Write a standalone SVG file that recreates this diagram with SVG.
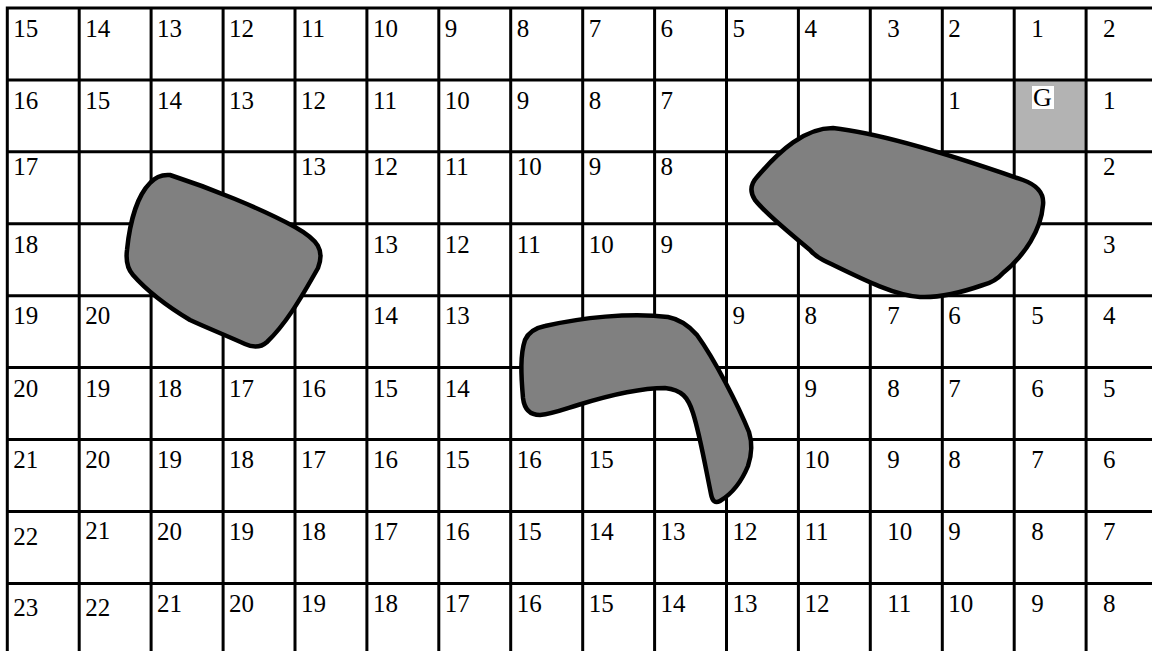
<svg xmlns="http://www.w3.org/2000/svg" width="1152" height="651" viewBox="0 0 1152 651">
<style>
.t{font-family:"Liberation Serif","Times New Roman",serif;font-size:25px;fill:#000}
.g{font-family:"Liberation Serif","Times New Roman",serif;font-size:26px;fill:#000}
.grid{fill:none;stroke:#000;stroke-width:3}
.obs{fill:#808080;stroke:#000;stroke-width:4.5;stroke-linejoin:round}
</style>
<rect x="0" y="0" width="1152" height="651" fill="#fff"/>
<g id="goal-cell"><rect x="1014.2" y="79.9" width="71.9" height="71.9" fill="#b3b3b3"/></g>
<g id="grid">
<path class="grid" d="M5.8,8H1152M5.8,79.9H1152M5.8,151.8H1152M5.8,223.8H1152M5.8,295.7H1152M5.8,367.6H1152M5.8,439.5H1152M5.8,511.4H1152M5.8,583.4H1152
M7.3,6.5V651M79.2,6.5V651M151.1,6.5V651M223.1,6.5V651M295,6.5V651M366.9,6.5V651M438.8,6.5V651M510.7,6.5V651M582.7,6.5V651M654.6,6.5V651M726.5,6.5V651M798.4,6.5V651M870.3,6.5V651M942.3,6.5V651M1014.2,6.5V651M1086.1,6.5V651"/>
</g>
<g id="labels">
<g id="row0">
<text class="t" x="13.3" y="37">15</text><text class="t" x="85.2" y="37">14</text><text class="t" x="157.1" y="37">13</text><text class="t" x="229.1" y="37">12</text><text class="t" x="301" y="37">11</text><text class="t" x="372.9" y="37">10</text><text class="t" x="444.8" y="37">9</text><text class="t" x="516.7" y="37">8</text><text class="t" x="588.7" y="37">7</text><text class="t" x="660.6" y="37">6</text><text class="t" x="732.5" y="37">5</text><text class="t" x="804.4" y="37">4</text><text class="t" x="887.3" y="37">3</text><text class="t" x="948.3" y="37">2</text><text class="t" x="1031.2" y="37">1</text><text class="t" x="1103.1" y="37">2</text>
</g>
<g id="row1">
<text class="t" x="13.3" y="109">16</text><text class="t" x="85.2" y="109">15</text><text class="t" x="157.1" y="109">14</text><text class="t" x="229.1" y="109">13</text><text class="t" x="301" y="109">12</text><text class="t" x="372.9" y="109">11</text><text class="t" x="444.8" y="109">10</text><text class="t" x="516.7" y="109">9</text><text class="t" x="588.7" y="109">8</text><text class="t" x="660.6" y="109">7</text><text class="t" x="948.3" y="109">1</text><text class="t" x="1103.1" y="109">1</text>
</g>
<g id="goal-label"><rect x="1032" y="86" width="22" height="23" fill="#fff"/><text class="g" x="1033" y="106">G</text></g>
<g id="row2">
<text class="t" x="13.3" y="175">17</text><text class="t" x="301" y="175">13</text><text class="t" x="372.9" y="175">12</text><text class="t" x="444.8" y="175">11</text><text class="t" x="516.7" y="175">10</text><text class="t" x="588.7" y="175">9</text><text class="t" x="660.6" y="175">8</text><text class="t" x="1103.1" y="175">2</text>
</g>
<g id="row3">
<text class="t" x="13.3" y="253">18</text><text class="t" x="372.9" y="253">13</text><text class="t" x="444.8" y="253">12</text><text class="t" x="516.7" y="253">11</text><text class="t" x="588.7" y="253">10</text><text class="t" x="660.6" y="253">9</text><text class="t" x="1103.1" y="253">3</text>
</g>
<g id="row4">
<text class="t" x="13.3" y="324">19</text><text class="t" x="85.2" y="324">20</text><text class="t" x="372.9" y="324">14</text><text class="t" x="444.8" y="324">13</text><text class="t" x="732.5" y="324">9</text><text class="t" x="804.4" y="324">8</text><text class="t" x="887.3" y="324">7</text><text class="t" x="948.3" y="324">6</text><text class="t" x="1031.2" y="324">5</text><text class="t" x="1103.1" y="324">4</text>
</g>
<g id="row5">
<text class="t" x="13.3" y="397">20</text><text class="t" x="85.2" y="397">19</text><text class="t" x="157.1" y="397">18</text><text class="t" x="229.1" y="397">17</text><text class="t" x="301" y="397">16</text><text class="t" x="372.9" y="397">15</text><text class="t" x="444.8" y="397">14</text><text class="t" x="804.4" y="397">9</text><text class="t" x="887.3" y="397">8</text><text class="t" x="948.3" y="397">7</text><text class="t" x="1031.2" y="397">6</text><text class="t" x="1103.1" y="397">5</text>
</g>
<g id="row6">
<text class="t" x="13.3" y="468">21</text><text class="t" x="85.2" y="468">20</text><text class="t" x="157.1" y="468">19</text><text class="t" x="229.1" y="468">18</text><text class="t" x="301" y="468">17</text><text class="t" x="372.9" y="468">16</text><text class="t" x="444.8" y="468">15</text><text class="t" x="516.7" y="468">16</text><text class="t" x="588.7" y="468">15</text><text class="t" x="804.4" y="468">10</text><text class="t" x="887.3" y="468">9</text><text class="t" x="948.3" y="468">8</text><text class="t" x="1031.2" y="468">7</text><text class="t" x="1103.1" y="468">6</text>
</g>
<g id="row7">
<text class="t" x="13.3" y="545">22</text><text class="t" x="85.2" y="539">21</text><text class="t" x="157.1" y="540">20</text><text class="t" x="229.1" y="540">19</text><text class="t" x="301" y="540">18</text><text class="t" x="372.9" y="540">17</text><text class="t" x="444.8" y="540">16</text><text class="t" x="516.7" y="540">15</text><text class="t" x="588.7" y="540">14</text><text class="t" x="660.6" y="540">13</text><text class="t" x="732.5" y="540">12</text><text class="t" x="804.4" y="540">11</text><text class="t" x="887.3" y="540">10</text><text class="t" x="948.3" y="540">9</text><text class="t" x="1031.2" y="540">8</text><text class="t" x="1103.1" y="540">7</text>
</g>
<g id="row8">
<text class="t" x="13.3" y="616">23</text><text class="t" x="85.2" y="616">22</text><text class="t" x="157.1" y="612">21</text><text class="t" x="229.1" y="612">20</text><text class="t" x="301" y="612">19</text><text class="t" x="372.9" y="612">18</text><text class="t" x="444.8" y="612">17</text><text class="t" x="516.7" y="612">16</text><text class="t" x="588.7" y="612">15</text><text class="t" x="660.6" y="612">14</text><text class="t" x="732.5" y="612">13</text><text class="t" x="804.4" y="612">12</text><text class="t" x="887.3" y="612">11</text><text class="t" x="948.3" y="612">10</text><text class="t" x="1031.2" y="612">9</text><text class="t" x="1103.1" y="612">8</text>
</g>
</g>
<g id="obstacles">
<path id="obstacle-left" class="obs" d="M170,175 C210,188 260,208 295,227 C318,240 325,250 318,268 C300,300 285,325 267,342 Q258,350 245,344 C225,335 205,327 190,320 C170,308 148,292 133,275 Q125,266 127,250 C130,220 138,195 150,183 Q158,174 170,175 Z"/>
<path id="obstacle-right" class="obs" d="M833,128 C880,133 960,158 1023,180 Q1045,188 1043,205 C1041,230 1025,255 1003,273 Q995,282 983,285 C960,293 940,298 920,297 C895,296 860,278 823,260 Q815,256 810,250 C790,233 767,215 755,200 Q747,188 757,177 C780,150 805,128 833,128 Z"/>
<path id="obstacle-middle" class="obs" d="M545,326 C580,318 630,312 668,317 Q684,320 697,335 C715,360 738,405 749,432 Q754,448 748,466 C741,483 730,495 720,501 Q713,505 711,494 C706,470 700,435 693,413 C688,397 682,390 665,388 C640,388 610,395 578,405 C562,410 552,414 540,415 Q525,415 523,398 C521,375 520,355 525,340 Q530,329 545,326 Z"/>
</g>
</svg>
